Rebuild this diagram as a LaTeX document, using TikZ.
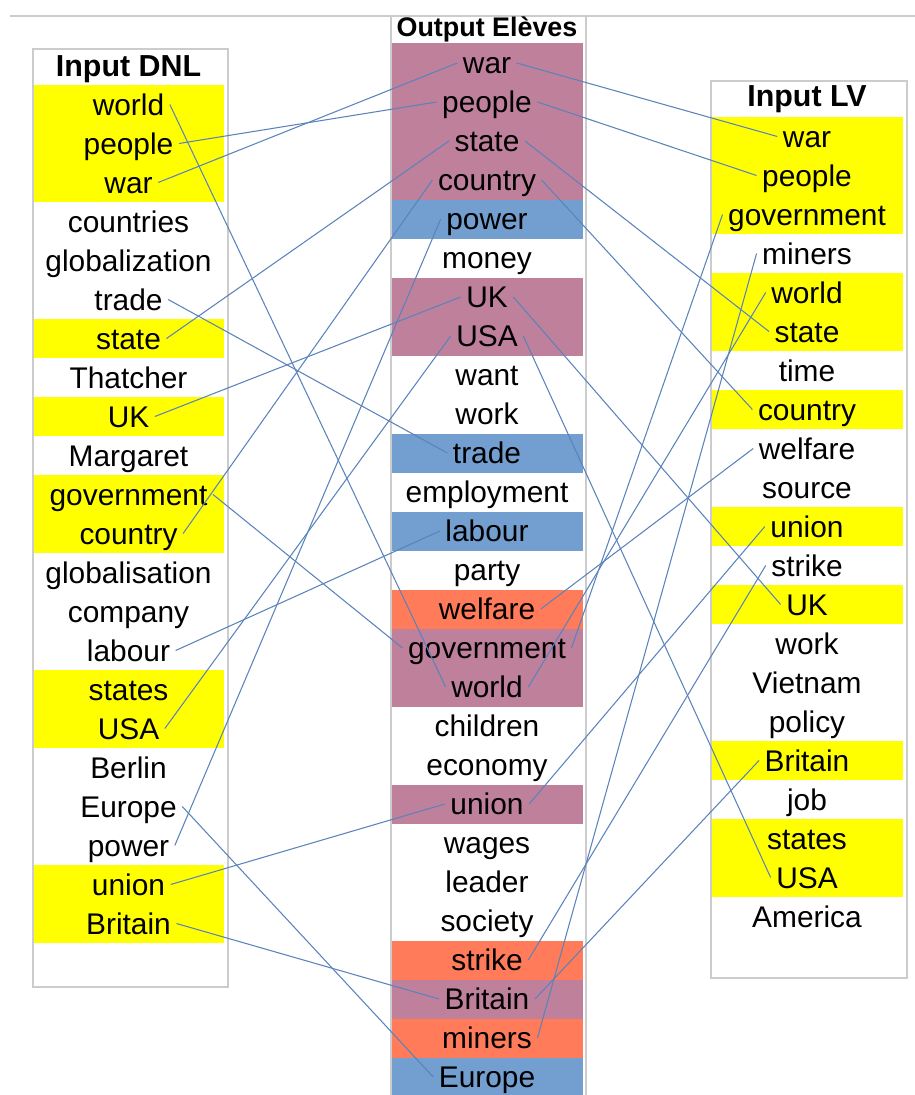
\documentclass[tikz,border=0pt]{standalone}
\usepackage{fontspec}
\setmainfont{Liberation Sans}
\definecolor{BandYellow}{HTML}{FFFF00}
\definecolor{BandMauve}{HTML}{BF809C}
\definecolor{BandBlue}{HTML}{729FCF}
\definecolor{BandCoral}{HTML}{FF7B59}
\definecolor{LinkBlue}{HTML}{5A83BC}
\definecolor{FrameGray}{HTML}{CCCCCC}

\begin{document}
\begin{tikzpicture}[x=0.02cm,y=-0.02cm,
  word/.style={inner sep=3pt,text height=14pt,text depth=2pt,font=\fontsize{17}{20}\selectfont},
  head/.style={inner sep=0pt,text height=14pt,text depth=2pt,font=\bfseries\fontsize{17.3}{20}\selectfont},
  frame/.style={draw=FrameGray,line width=0.7pt},
  link/.style={draw=LinkBlue,line width=0.6pt}]
  \useasboundingbox (0,0) rectangle (915,1095);
  \foreach \a/\b in {85/202,319/358,397/436,475/553,670/748,865/943} \fill[BandYellow] (33,\a) rectangle (224,\b);
  \foreach \c/\a/\b in {BandMauve/43.5/199.5,BandBlue/199.5/238.5,BandMauve/277.5/355.5,BandBlue/433.5/472.5,BandBlue/511.5/550.5,BandCoral/589.5/628.5,BandMauve/628.5/706.5,BandMauve/784.5/823.5,BandCoral/940.5/979.5,BandMauve/979.5/1018.5,BandCoral/1018.5/1057.5,BandBlue/1057.5/1100}
    \fill[\c] (391,\a) rectangle (583,\b);
  \foreach \a/\b in {117/234,273/351,390/429,507/546,585/624,741/780,819/897} \fill[BandYellow] (711,\a) rectangle (903,\b);
  \draw[frame] (10,16) -- (915,16); \draw[frame] (391,1100) -- (391,16) -- (586,16) -- (586,1100);
  \draw[frame] (33,49) rectangle (228,987); \draw[frame] (711,81) rectangle (907,978);

  \node[head] (l-head) at (128.5,65.5) {Input DNL};
  \node[head,font=\bfseries\fontsize{15.3}{18}\selectfont] (m-head) at (487,26) {Output Elèves};
  \node[head] (r-head) at (807,95.5) {Input LV};
  \foreach \w [count=\i from 0] in {world,people,war,countries,globalization,trade,state,Thatcher,UK,Margaret,government,country,globalisation,company,labour,states,USA,Berlin,Europe,power,union,Britain}
    \node[word] (l-\w) at (128.5,{104.5+39*\i}) {\w};
  \foreach \w [count=\i from 0] in {war,people,state,country,power,money,UK,USA,want,work,trade,employment,labour,party,welfare,government,world,children,economy,union,wages,leader,society,strike,Britain,miners,Europe}
    \node[word] (m-\w) at (487,{63+39*\i}) {\w};
  \foreach \w [count=\i from 0] in {war,people,government,miners,world,state,time,country,welfare,source,union,strike,UK,work,Vietnam,policy,Britain,job,states,USA,America}
    \node[word] (r-\w) at (807,{136.5+39*\i}) {\w};

  \foreach \w in {world,people,war,trade,state,UK,government,country,labour,USA,power,Europe,union,Britain}
    \draw[link] (l-\w.east) -- (m-\w.west);
  \foreach \w in {war,people,state,country,UK,USA,welfare,government,world,miners,union,strike,Britain}
    \draw[link] (m-\w.east) -- (r-\w.west);
\end{tikzpicture}
\end{document}
